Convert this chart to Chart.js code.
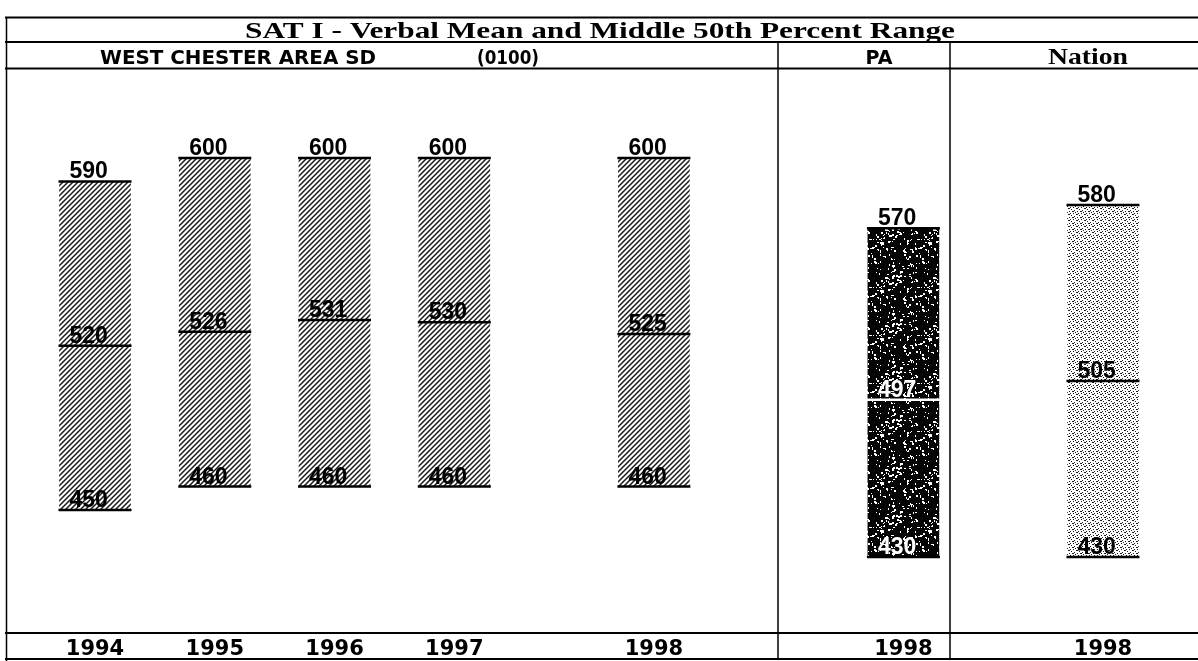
<!DOCTYPE html>
<html><head><meta charset="utf-8">
<script src="https://cdn.jsdelivr.net/npm/chart.js@4/dist/chart.umd.min.js"></script>
<style>html,body{margin:0;padding:0;background:#fff;}#wrap{width:1198px;height:661px;}</style>
</head><body><div id="wrap"><canvas id="c" width="1198" height="661"></canvas></div>
<script>
// ---- data ----
const categories = ['1994', '1995', '1996', '1997', '1998', '1998', '1998'];
const groups = ['district', 'district', 'district', 'district', 'district', 'PA', 'Nation'];
const slots = [0, 12, 24, 36, 56, 81, 101];
const lowValues = [450, 460, 460, 460, 460, 430, 430];
const meanValues = [520, 526, 531, 530, 525, 497, 505];
const highValues = [590, 600, 600, 600, 600, 570, 580];
const titleText = 'SAT I - Verbal Mean and Middle 50th Percent Range';
const headerTexts = ['WEST CHESTER AREA SD', '(0100)', 'PA', 'Nation'];

const canvas = document.getElementById('c');
const ctx0 = canvas.getContext('2d');

function hatchPattern() {
  const s = 5, c = document.createElement('canvas'); c.width = c.height = s;
  const g = c.getContext('2d');
  g.fillStyle = '#fff'; g.fillRect(0, 0, s, s);
  g.strokeStyle = '#1a1a1a'; g.lineWidth = 1.5;
  g.beginPath();
  g.moveTo(-1, s + 1); g.lineTo(s + 1, -1);
  g.moveTo(-1, 1); g.lineTo(1, -1);
  g.moveTo(s - 1, s + 1); g.lineTo(s + 1, s - 1);
  g.stroke();
  return ctx0.createPattern(c, 'repeat');
}
function hash(n) { const v = Math.sin(n * 12.9898 + 78.233) * 43758.5453; return v - Math.floor(v); }
function speckPattern() {
  const s = 48, c = document.createElement('canvas'); c.width = c.height = s;
  const g = c.getContext('2d');
  g.fillStyle = '#050505'; g.fillRect(0, 0, s, s);
  g.fillStyle = '#fff';
  for (let i = 0; i < 150; i++) {
    const x = Math.floor(hash(i) * s), y = Math.floor(hash(i + 500) * s);
    const w = 1 + Math.floor(hash(i + 1000) * 2), h = 1 + Math.floor(hash(i + 1500) * 2);
    g.fillRect(x, y, w, h);
  }
  return ctx0.createPattern(c, 'repeat');
}
function dotPattern() {
  const c = document.createElement('canvas'); c.width = 8; c.height = 6;
  const g = c.getContext('2d');
  g.fillStyle = '#fff'; g.fillRect(0, 0, 8, 6);
  g.fillStyle = '#1a1a1a';
  g.fillRect(0, 1, 2, 1); g.fillRect(2, 0, 1, 1);
  g.fillRect(4, 4, 2, 1); g.fillRect(6, 3, 1, 1);
  g.fillRect(1, 3, 1, 1); g.fillRect(5, 1, 1, 1);
  g.fillRect(3, 2, 1, 1); g.fillRect(7, 5, 1, 1);
  return ctx0.createPattern(c, 'repeat');
}
const fills = { district: hatchPattern(), PA: speckPattern(), Nation: dotPattern() };

function drawText(ctx, text, x, y, font, align, opts) {
  opts = opts || {};
  ctx.save();
  ctx.font = font; ctx.fillStyle = opts.color || '#000'; ctx.textBaseline = 'alphabetic';
  const raw = ctx.measureText(text).width;
  const sx = opts.width ? opts.width / raw : (opts.sx || 1);
  const w = raw * sx;
  let left = x;
  if (align === 'center') left = x - w / 2; else if (align === 'right') left = x - w;
  ctx.translate(left, y); ctx.scale(sx, 1); ctx.textAlign = 'left';
  ctx.fillText(text, 0, 0);
  ctx.restore();
}

const framePlugin = {
  id: 'frame',
  beforeDraw(chart) {
    const ctx = chart.ctx;
    ctx.save(); ctx.fillStyle = '#fff'; ctx.fillRect(0, 0, chart.width, chart.height); ctx.restore();
  },
  afterDraw(chart) {
    const ctx = chart.ctx;
    ctx.save();
    ctx.strokeStyle = '#000';
    ctx.lineWidth = 2;
    const hl = (y, x1, x2) => { ctx.beginPath(); ctx.moveTo(x1, y); ctx.lineTo(x2, y); ctx.stroke(); };
    const vl = (x, y1, y2) => { ctx.beginPath(); ctx.moveTo(x, y1); ctx.lineTo(x, y2); ctx.stroke(); };
    hl(17.5, 5, 1198); hl(42, 5, 1198); hl(68.5, 5, 1198); hl(633, 5, 1198); hl(659, 5, 1198);
    ctx.lineWidth = 1.5;
    vl(6.5, 17, 661); vl(778, 42, 659); vl(950, 42, 659);
    ctx.restore();
    drawText(ctx, titleText, 600, 38, 'bold 24px "Liberation Serif"', 'center', { width: 710 });
    drawText(ctx, headerTexts[0], 100, 64, 'bold 20px "DejaVu Sans"', 'left', { width: 276 });
    drawText(ctx, headerTexts[1], 508, 64, 'bold 20px "DejaVu Sans"', 'center', { width: 62 });
    drawText(ctx, headerTexts[2], 879, 64, 'bold 20px "DejaVu Sans"', 'center', { width: 27 });
    drawText(ctx, headerTexts[3], 1088, 64, 'bold 23px "Liberation Serif"', 'center', { width: 80 });
  }
};

const marksPlugin = {
  id: 'marks',
  afterDatasetsDraw(chart) {
    const ctx = chart.ctx;
    const ys = chart.scales.y;
    const meta = chart.getDatasetMeta(0);
    meta.data.forEach((bar, i) => {
      const left = bar.x - bar.width / 2, right = bar.x + bar.width / 2;
      const dark = groups[i] === 'PA';
      const items = [[lowValues[i], 'low'], [meanValues[i], 'mean'], [highValues[i], 'high']];
      items.forEach(([v, k]) => {
        const y = ys.getPixelForValue(v);
        ctx.save();
        ctx.strokeStyle = (dark && k === 'mean') ? '#fff' : '#000';
        ctx.lineWidth = 2.5;
        ctx.beginPath(); ctx.moveTo(left - 1, y); ctx.lineTo(right + 1, y); ctx.stroke();
        ctx.restore();
        const col = (dark && k !== 'high') ? '#fff' : '#000';
        drawText(ctx, String(v), left + 10, y - 3, 'bold 23px "Liberation Sans"', 'left', { color: col });
      });
    });
  }
};

new Chart(canvas, {
  type: 'bar',
  data: {
    datasets: [{
      data: slots.map((s, i) => ({ x: s, y: [lowValues[i], highValues[i]] })),
      backgroundColor: groups.map(g => fills[g]),
      borderWidth: 0,
      barThickness: 71
    }]
  },
  options: {
    responsive: false,
    animation: false,
    devicePixelRatio: 1,
    layout: { padding: { top: 69, left: 0, right: 0, bottom: 0 } },
    plugins: { legend: { display: false }, tooltip: { enabled: false }, title: { display: false } },
    scales: {
      x: {
        type: 'linear',
        offset: false,
        min: -9.52, max: 110.52,
        grid: { display: false, drawTicks: false, offset: false },
        border: { display: false },
        afterBuildTicks: s => { s.ticks = slots.map(v => ({ value: v })); },
        afterFit: s => { s.height = 28; },
        ticks: {
          autoSkip: false, maxRotation: 0, minRotation: 0, padding: 4,
          color: '#000',
          font: { family: 'DejaVu Sans', weight: 'bold', size: 21 },
          callback: (v, i) => categories[i]
        }
      },
      y: { display: false, min: 397.6, max: 637.9 }
    }
  },
  plugins: [framePlugin, marksPlugin]
});
</script>
</body></html>
